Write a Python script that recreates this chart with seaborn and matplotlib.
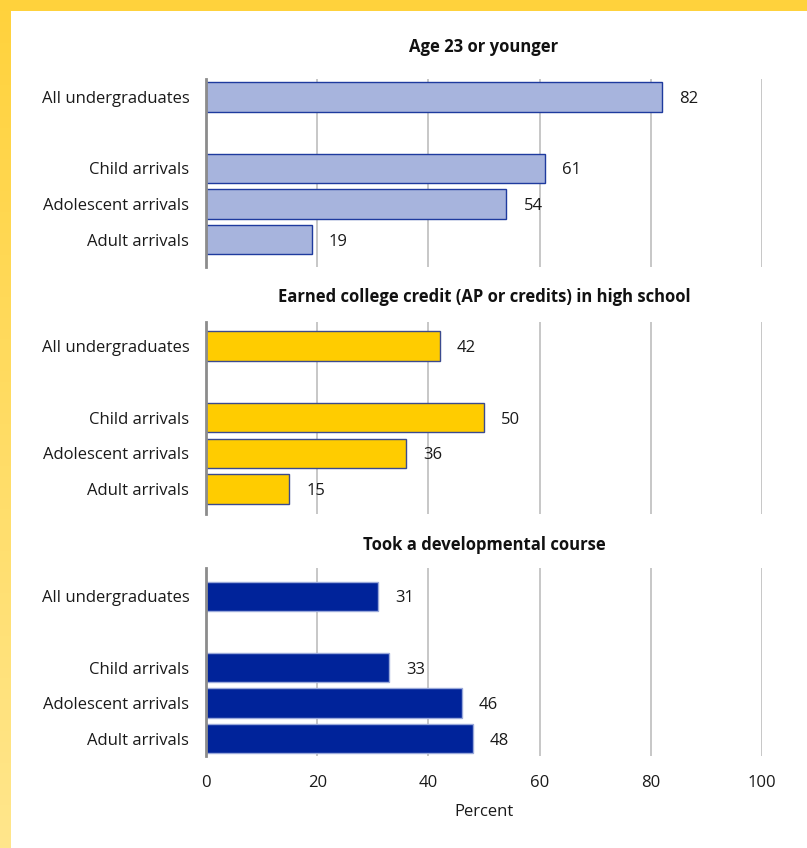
import numpy as np
import pandas as pd
import matplotlib
matplotlib.use("Agg")
import matplotlib.pyplot as plt
import seaborn as sns

# Categories and slot positions (a gap separates the overall group)
groups = ["All undergraduates", "Child arrivals", "Adolescent arrivals", "Adult arrivals"]
slots = [0, 2, 3, 4]

titles = [
    "Age 23 or younger",
    "Earned college credit (AP or credits) in high school",
    "Took a developmental course",
]
age_23_or_younger = [82, 61, 54, 19]
college_credit_hs = [42, 50, 36, 15]
developmental_course = [31, 33, 46, 48]
x_ticks = [0, 20, 40, 60, 80, 100]
x_label = "Percent"

series = [age_23_or_younger, college_credit_hs, developmental_course]
fills = ["#A7B4DD", "#FFCC00", "#00239A"]
edges = ["#1E3A9E", "#3B4A8E", "#9AA9DA"]

sns.set_theme(style="white")
plt.rcParams["font.family"] = ["Open Sans", "DejaVu Sans"]

W, H = 807, 848
fig = plt.figure(figsize=(W / 100, H / 100), dpi=100)

# Background: white page with a warm yellow band along top and left edges
bg = fig.add_axes([0, 0, 1, 1], zorder=-10)
img = np.ones((H, W, 3))
top_col = np.array([255, 210, 60]) / 255
bot_col = np.array([255, 230, 140]) / 255
t = np.linspace(0, 1, H)[:, None]
grad = top_col * (1 - t) + bot_col * t
img[:, :11, :] = grad[:, None, :]
img[:11, :, :] = top_col
bg.imshow(img, aspect="auto", extent=[0, 1, 0, 1])
bg.axis("off")

# Panel placement in pixels: (top, bottom) and y-limits (top, bottom) in slot units
x0, x1 = 206, 762
panel_px = [(79, 267), (322, 514), (568, 756)]
panel_ylim = [(-0.51, 4.77), (-0.68, 4.70), (-0.80, 4.49)]
title_y = [45, 295, 543]

for i, (vals, title) in enumerate(zip(series, titles)):
    top, bot = panel_px[i]
    ax = fig.add_axes([x0 / W, 1 - bot / H, (x1 - x0) / W, (bot - top) / H])
    df = pd.DataFrame({"group": groups, "pos": slots, "value": vals})
    sns.barplot(data=df, x="value", y="pos", orient="h", native_scale=True,
                color=fills[i], edgecolor=edges[i], linewidth=1.0,
                width=0.83, saturation=1, ax=ax, zorder=3)
    ax.set_xlim(0, 100)
    ax.set_ylim(panel_ylim[i][1], panel_ylim[i][0])
    ax.set_yticks(slots)
    ax.set_yticklabels(groups, fontsize=12, color="#1a1a1a")
    ax.set_xticks(x_ticks)
    ax.grid(axis="x", color="#BDBDBD", linewidth=1.2, zorder=0)
    ax.set_axisbelow(True)
    for s in ["top", "right", "bottom"]:
        ax.spines[s].set_visible(False)
    ax.spines["left"].set_color("#8C8C8C")
    ax.spines["left"].set_linewidth(2.0)
    ax.spines["left"].set_zorder(5)
    ax.tick_params(axis="y", length=0, pad=12)
    ax.tick_params(axis="x", length=0)
    ax.set_ylabel("")
    if i < 2:
        ax.set_xticklabels([])
        ax.set_xlabel("")
    else:
        ax.set_xticklabels([str(v) for v in x_ticks], fontsize=12, color="#1a1a1a")
        ax.tick_params(axis="x", pad=14)
        ax.set_xlabel(x_label, fontsize=12, color="#1a1a1a", labelpad=9)
    for p, v in zip(slots, vals):
        ax.text(v + 3.1, p, f"{v}", va="center_baseline", ha="left", fontsize=12,
                color="#1a1a1a")
    fig.text((x0 + x1) / 2 / W, 1 - title_y[i] / H, title, ha="center",
             va="center_baseline", fontsize=12, fontweight="bold", color="#111111")

fig.savefig("out.png", dpi=100)
